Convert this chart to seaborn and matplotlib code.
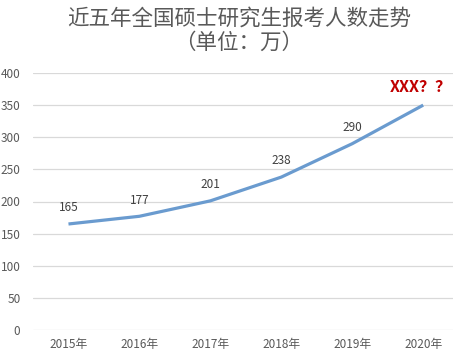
import matplotlib
matplotlib.use("Agg")
import matplotlib.pyplot as plt
import seaborn as sns
import pandas as pd

years = ["2015年", "2016年", "2017年", "2018年", "2019年", "2020年"]
applicants = [165, 177, 201, 238, 290, 350]
labels = ["165", "177", "201", "238", "290", ""]
yticks = [0, 50, 100, 150, 200, 250, 300, 350, 400]
title_text = "近五年全国硕士研究生报考人数走势\n（单位：万）"
highlight = "XXX？？"

sns.set_theme(style="white")
plt.rcParams['font.family'] = ['Noto Sans CJK SC', 'DejaVu Sans']

df = pd.DataFrame({"x": range(len(years)), "y": applicants})

fig = plt.figure(figsize=(4.53, 3.62), dpi=100)
ax = fig.add_axes([33/453, 32/362, 1 - 33/453, (330-73)/362])

for v in yticks:
    ax.axhline(v, color="#D9D9D9", lw=0.9, zorder=0)

sns.lineplot(data=df, x="x", y="y", ax=ax, color="#6A9BCF", lw=2.3,
             solid_capstyle="butt")

for i, (v, lab) in enumerate(zip(applicants, labels)):
    if lab:
        ax.annotate(lab, (i, v), xytext=(0, 7), textcoords="offset points",
                    ha="center", va="bottom", fontsize=8.5, color="#404040")

ax.annotate(highlight, (5, 350), xytext=(-24, 7), textcoords="offset points",
            ha="left", va="bottom", fontsize=11.5, color="#C00000",
            fontweight="bold", annotation_clip=False)

ax.set_xlim(-0.5, 5.42)
ax.set_ylim(0, 400)
ax.set_xticks(range(len(years)))
ax.set_xticklabels(years)
ax.set_yticks(yticks)
ax.tick_params(axis="both", length=0, labelsize=8.5, labelcolor="#595959")
ax.tick_params(axis="x", pad=6)
ax.tick_params(axis="y", pad=9)
ax.set_xlabel("")
ax.set_ylabel("")
for s in ax.spines.values():
    s.set_visible(False)

fig.text(239/453, 1 - 31/362, title_text, ha="center", va="center",
         fontsize=15.5, color="#595959", linespacing=1.15)

fig.savefig("out.png", dpi=100, facecolor="white")
